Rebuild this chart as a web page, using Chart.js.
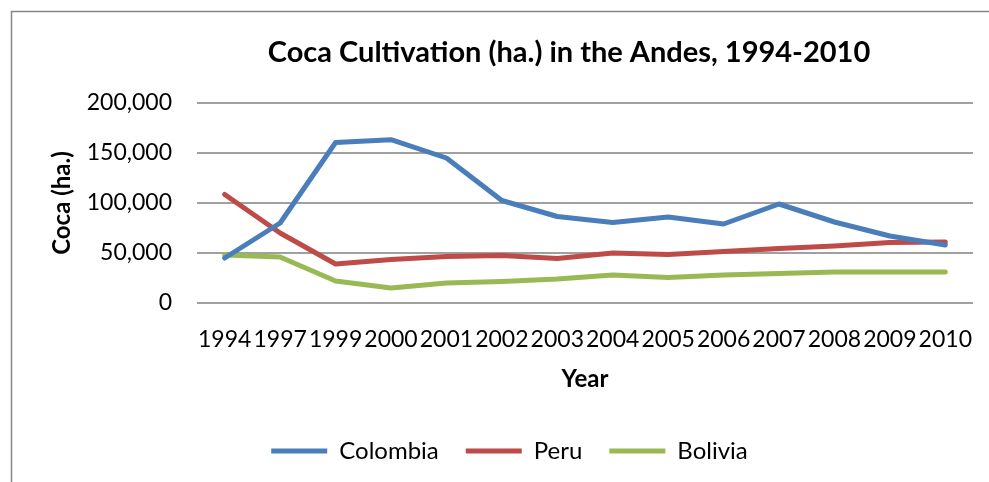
<!DOCTYPE html>
<html>
<head>
<meta charset="utf-8">
<title>Coca Cultivation (ha.) in the Andes, 1994-2010</title>
<script src="https://cdn.jsdelivr.net/npm/chart.js@4.4.1/dist/chart.umd.min.js"></script>
<style>
  html, body { margin: 0; padding: 0; background: #fff; overflow: hidden; }
  #wrap { position: absolute; left: 0; top: 0; width: 1019px; height: 482px; }
</style>
</head>
<body>
<div id="wrap"><canvas id="chartCoca" width="1019" height="482"></canvas></div>
<script>
/* Coca Cultivation (ha.) in the Andes, 1994-2010 */

const years = ["1994", "1997", "1999", "2000", "2001", "2002", "2003",
               "2004", "2005", "2006", "2007", "2008", "2009", "2010"];

const colombia = [45000, 80000, 160500, 163300, 145000, 102500, 86500,
                  80500, 86000, 79000, 99000, 81000, 67000, 58000];
const peru     = [108500, 70000, 39000, 43500, 46500, 47500, 44500,
                  50000, 48500, 51500, 54500, 57000, 60500, 61000];
const bolivia  = [48000, 46000, 22000, 15000, 20000, 21500, 24000,
                  28000, 25500, 28000, 29500, 31000, 31000, 31000];

const yTicks = [0, 50000, 100000, 150000, 200000];

const chartTitle = "Coca Cultivation (ha.) in the Andes, 1994-2010";
const FONT = "Lato, 'Open Sans', sans-serif";

Chart.defaults.font.family = FONT;
Chart.defaults.color = "#000";

// marco exterior y título, a la manera de Excel
const frame = {
  id: "frame",
  beforeDraw(chart) {
    const { ctx } = chart;
    ctx.save();
    ctx.strokeStyle = "#868686";
    ctx.lineWidth = 1.5;
    ctx.strokeRect(11.5, 11.5, 1100, 600);
    ctx.restore();
  },
  afterDraw(chart) {
    const { ctx, chartArea } = chart;
    ctx.save();
    ctx.font = "bold 29px " + FONT;
    ctx.fillStyle = "#000";
    ctx.textAlign = "center";
    ctx.textBaseline = "middle";
    ctx.fillText(chartTitle, (chartArea.left + chartArea.right) / 2 - 16, 53);
    ctx.restore();
  },
};

function series(label, data, color) {
  return {
    label,
    data,
    borderColor: color,
    backgroundColor: color,
    borderWidth: 5,
    tension: 0,
    pointRadius: 0,
    pointHoverRadius: 0,
    borderJoinStyle: "round",
    borderCapStyle: "round",
  };
}

new Chart(document.getElementById("chartCoca"), {
  type: "line",
  plugins: [frame],
  data: {
    labels: years,
    datasets: [
      series("Colombia", colombia, "#4a7ebb"),
      series("Peru", peru, "#be4b48"),
      series("Bolivia", bolivia, "#98b954"),
    ],
  },
  options: {
    responsive: false,
    animation: false,
    layout: { padding: { top: 103, left: 46, right: 46, bottom: 9 } },
    plugins: {
      title: { display: false },
      tooltip: { enabled: false },
      legend: {
        position: "bottom",
        labels: {
          font: { size: 24 },
          color: "#000",
          boxWidth: 56,
          boxHeight: 5,
          padding: 27,
          generateLabels(chart) {
            return Chart.defaults.plugins.legend.labels.generateLabels(chart)
              .map((item) => Object.assign(item, { lineWidth: 0 }));
          },
        },
      },
    },
    scales: {
      x: {
        offset: true,
        grid: { display: false, drawTicks: false },
        border: { display: false },
        ticks: { font: { size: 23 }, padding: 23, autoSkip: false, maxRotation: 0 },
        title: { display: true, text: "Year", font: { size: 24, weight: "bold" }, padding: { top: 0, bottom: 18 } },
        afterFit(scale) { scale.height = 109; },
      },
      y: {
        min: 0,
        max: 200000,
        afterBuildTicks(scale) { scale.ticks = yTicks.map((v) => ({ value: v })); },
        grid: { color: "#a0a0a0", lineWidth: 2, drawTicks: false },
        border: { display: false },
        ticks: {
          font: { size: 23 },
          padding: 25,
          callback: (v) => v.toLocaleString("en-US"),
        },
        title: { display: true, text: "Coca (ha.)", font: { size: 24, weight: "bold" }, padding: { top: 2, bottom: 0 } },
        afterFit(scale) { scale.width = 151; },
      },
    },
  },
});
</script>
</body>
</html>
